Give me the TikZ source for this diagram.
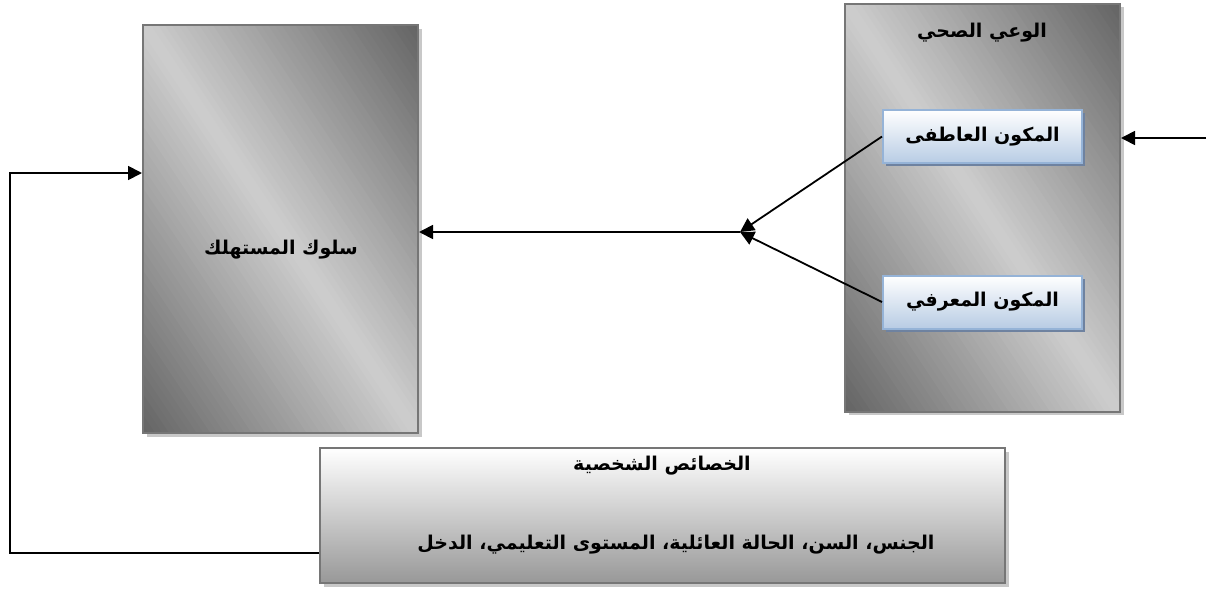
\documentclass[tikz,border=0pt]{standalone}
\usepackage{fontspec}
\newfontfamily\arabicfont[Script=Arabic]{DejaVu Sans}
\TeXXeTstate=1
\usetikzlibrary{positioning,shadows,arrows.meta}
\definecolor{cadre}{RGB}{118,118,118}
\definecolor{fonce}{RGB}{100,100,100}
\definecolor{clair}{RGB}{206,206,206}
\definecolor{bas}{RGB}{152,152,152}
\definecolor{bleuBord}{RGB}{149,179,215}
\definecolor{bleuFond}{RGB}{184,204,228}
\definecolor{ombre}{RGB}{200,200,200}
\definecolor{ombreBleu}{RGB}{110,130,160}
\newcommand{\artxt}[1]{\beginR #1\endR}
% degrade diagonal en bandes (bloc de 137.5pt x 204pt)
\newcommand{\bandes}{%
  \begin{scope}[shift={(path picture bounding box.center)}]
  \foreach \i in {0,...,79}{
    \pgfmathsetmacro{\ta}{-1+\i/40}
    \pgfmathsetmacro{\tb}{\ta+0.035}
    \pgfmathtruncatemacro{\pc}{100*(1-abs(-1+(\i+0.5)/40))}
    \fill[clair!\pc!fonce] ({(\ta-0.5)*137.5pt},103pt) -- ({(\tb-0.5)*137.5pt},103pt)
      -- ({(\tb+0.5)*137.5pt},-103pt) -- ({(\ta+0.5)*137.5pt},-103pt) -- cycle;
  }
  \end{scope}}

\begin{document}
\begin{tikzpicture}[x=0.5pt, y=-0.5pt,
    arfont/.style={font=\arabicfont\bfseries\fontsize{9.5}{11}\selectfont},
    bloc/.style={draw=cadre, line width=1pt, inner sep=0pt,
        minimum width=137.5pt, minimum height=204pt, fill=clair,
        path picture={\bandes},
        drop shadow={shadow xshift=1.8pt, shadow yshift=-1.8pt, fill=ombre, opacity=1}},
    compo/.style={draw=bleuBord, line width=1pt, inner sep=0pt,
        minimum width=99.5pt, minimum height=26.5pt, arfont,
        top color=white, bottom color=bleuFond,
        drop shadow={shadow xshift=1.5pt, shadow yshift=-1.5pt, fill=ombreBleu, opacity=1}},
    carac/.style={draw=cadre, line width=1pt, inner sep=0pt,
        minimum width=342.5pt, minimum height=67.5pt,
        top color=white, bottom color=bas,
        drop shadow={shadow xshift=1.8pt, shadow yshift=-1.8pt, fill=ombre, opacity=1}},
    texte/.style={arfont, inner sep=1pt},
    flux/.style={line width=0.9pt, -{Triangle[length=7pt,width=7pt]}}
]
\useasboundingbox (0,0) rectangle (1208,589);

% Blocs principaux
\node[bloc] (behav) at (280.5,229) {};
\node[texte] (behavtxt) at (281,250) {\artxt{سلوك المستهلك}};

\node[bloc] (aware) at (982.5,207.5) {};
\node[texte] (awaretxt) at (982,33) {\artxt{الوعي الصحي}};

\node[compo] (emo) at (982.5,136.5) {\artxt{المكون العاطفى}};
\node[compo] (cog) at (982.5,302) {\artxt{المكون المعرفي}};

\node[carac] (traits) at (662.5,515.5) {};
\node[texte] (traitstitle) at (662,466) {\artxt{الخصائص الشخصية}};
\node[texte] (traitslist) at (676,545) {\artxt{الجنس، السن، الحالة العائلية، المستوى التعليمي، الدخل}};

% Points de passage
\coordinate (hub) at (740,232);
\coordinate (input) at (1206,138);
\coordinate (fbdown) at (10,553);
\coordinate (fbup) at (10,173);

\draw[flux] (emo.west) -- (hub);
\draw[flux] (cog.west) -- (hub);
\draw[flux] (hub) -- (behav.east |- hub);
\draw[flux] (input) -- (aware.east |- input);
\draw[flux] (traits.west |- fbdown) -- (fbdown) -- (fbup) -- (behav.west |- fbup);
\end{tikzpicture}
\end{document}
